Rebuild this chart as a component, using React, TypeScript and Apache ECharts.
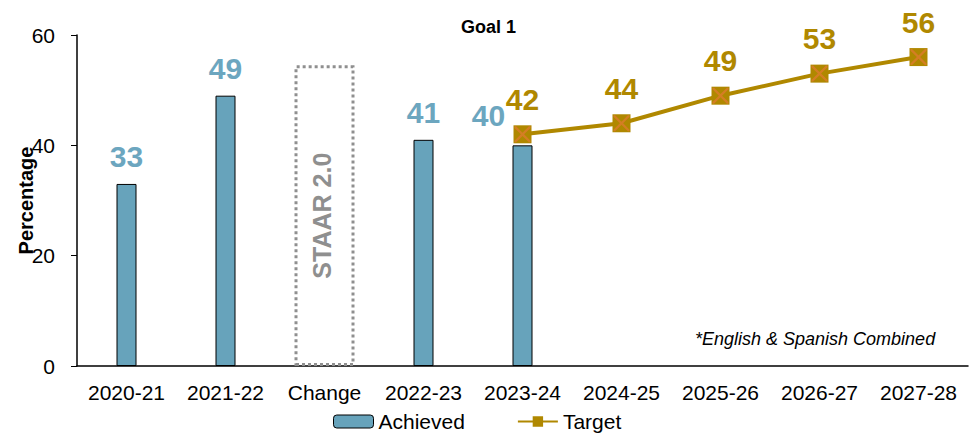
import React, { useEffect, useRef } from "react";
import * as echarts from "echarts";

const categories = ["2020-21", "2021-22", "Change", "2022-23", "2023-24", "2024-25", "2025-26", "2026-27", "2027-28"];
const achieved = [33, 49, null, 41, 40, null, null, null, null];
const target = [null, null, null, null, 42, 44, 49, 53, 56];
const staarBox = [null, null, 54.5, null, null, null, null, null, null];
const yTicks = [0, 20, 40, 60];

const BAR = "#67A3BB";
const BAR_LABEL = "#6CA6BF";
const GOLD = "#B08800";
const XCOLOR = "#E07B30";
const GREY = "#8F8F8F";
const FONT = "Liberation Sans, Arial, sans-serif";
const X_PATH = "path://M0,0L2,0L10,8L18,0L20,0L20,2L12,10L20,18L20,20L18,20L10,12L2,20L0,20L0,18L8,10L0,2Z";

export default function App() {
  const ref = useRef<HTMLDivElement>(null);
  useEffect(() => {
    document.body.style.margin = "0";
    document.body.style.overflow = "hidden";
    if (!ref.current) return;
    const chart = echarts.init(ref.current, undefined, { renderer: "svg" });
    chart.setOption({
      animation: false,
      textStyle: { fontFamily: FONT },
      title: {
        text: "Goal 1",
        left: "center",
        top: 13,
        textStyle: { fontSize: 18, fontWeight: "bold", color: "#000", fontFamily: FONT },
      },
      legend: {
        left: 333,
        top: 411,
        padding: 0,
        itemWidth: 40,
        itemHeight: 13,
        itemGap: 52,
        textStyle: { fontSize: 21, color: "#000", fontFamily: FONT },
        data: [
          { name: "Achieved", itemStyle: { color: BAR, borderColor: "#000", borderWidth: 1 } },
          { name: "Target" },
        ],
      },
      grid: { left: 77, right: 9, top: 35, bottom: 70, containLabel: false, outerBoundsMode: "none" },
      xAxis: [
        {
          type: "category",
          data: categories,
          axisLine: { lineStyle: { color: "#000", width: 1.5 } },
          axisTick: { show: false },
          axisLabel: { fontSize: 21, color: "#000", margin: 16, fontFamily: FONT, interval: 0 },
        },
        { type: "category", data: categories, show: false },
      ],
      yAxis: {
        type: "value",
        min: 0,
        max: 60,
        interval: 20,
        name: "Percentage",
        nameLocation: "middle",
        nameGap: 41,
        nameMoveOverlap: false,
        nameTextStyle: { fontSize: 20, fontWeight: "bold", color: "#000", fontFamily: FONT },
        axisLine: { show: true, lineStyle: { color: "#000", width: 1.5 } },
        axisTick: { show: true, length: 6, lineStyle: { color: "#000" } },
        axisLabel: {
          fontSize: 21,
          color: "#000",
          margin: 22,
          fontFamily: FONT,
          formatter: (v: number) => (yTicks.includes(v) ? String(v) : ""),
        },
        splitLine: { show: false },
      },
      series: [
        {
          name: "STAAR",
          type: "bar",
          xAxisIndex: 1,
          data: staarBox,
          barWidth: 60,
          silent: true,
          itemStyle: { color: "rgba(0,0,0,0)", borderColor: GREY, borderWidth: 3, borderType: [3, 3] },
          label: {
            show: true,
            position: "inside",
            rotate: 90,
            formatter: "STAAR 2.0",
            fontSize: 25,
            fontWeight: "bold",
            color: GREY,
            fontFamily: FONT,
            offset: [0, -3],
          },
          z: 1,
        },
        {
          name: "Achieved",
          type: "bar",
          data: achieved.map((v, i) =>
            v === null
              ? null
              : { value: v, label: i === 4 ? { offset: [-34, -3] } : {} }
          ),
          barWidth: 20,
          itemStyle: { color: BAR, borderColor: "#000", borderWidth: 1 },
          label: {
            show: true,
            position: "top",
            distance: 12,
            fontSize: 30,
            fontWeight: "bold",
            color: BAR_LABEL,
            fontFamily: FONT,
          },
          z: 2,
        },
        {
          name: "Target",
          type: "line",
          data: target,
          symbol: "rect",
          symbolSize: 18,
          lineStyle: { color: GOLD, width: 4 },
          itemStyle: { color: GOLD },
          label: {
            show: true,
            position: "top",
            distance: 11,
            fontSize: 30,
            fontWeight: "bold",
            color: GOLD,
            fontFamily: FONT,
          },
          z: 3,
        },
        {
          name: "TargetX",
          type: "line",
          data: target,
          symbol: X_PATH,
          symbolSize: 16,
          lineStyle: { opacity: 0 },
          itemStyle: { color: XCOLOR, opacity: 0.75 },
          silent: true,
          z: 4,
        },
      ],
    });
    return () => chart.dispose();
  }, []);

  return (
    <div style={{ position: "relative", width: 977, height: 436, overflow: "hidden" }}>
      <div ref={ref} style={{ position: "absolute", left: 0, top: 0, width: 977, height: 436 }} />
      <div
        style={{
          position: "absolute",
          left: 695,
          top: 329,
          fontFamily: FONT,
          fontStyle: "italic",
          fontSize: 18,
          color: "#000",
          whiteSpace: "nowrap",
        }}
      >
        *English &amp; Spanish Combined
      </div>
    </div>
  );
}
